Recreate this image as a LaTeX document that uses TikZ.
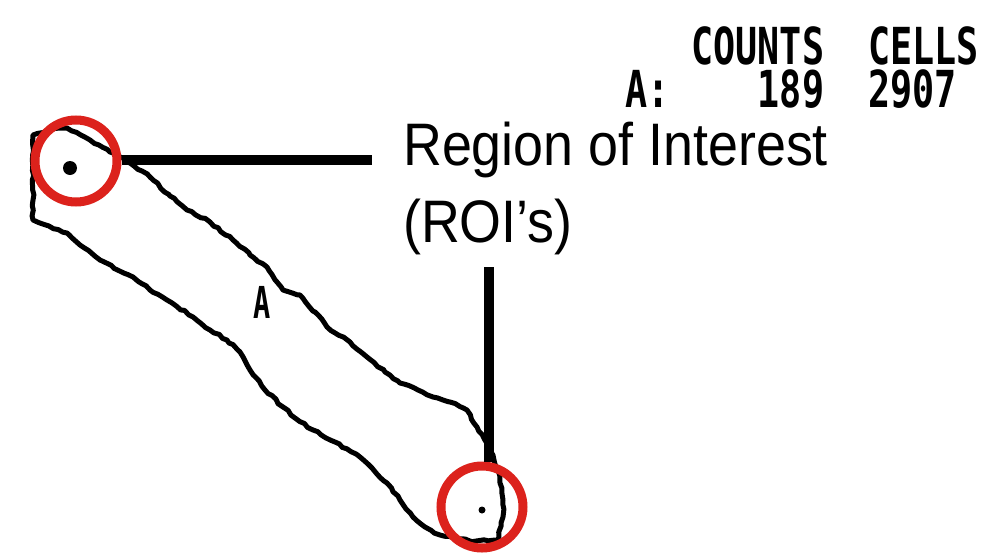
\documentclass[tikz,border=0pt]{standalone}
\usepackage{fontspec}
\usetikzlibrary{decorations.pathmorphing}
\setmainfont{Liberation Sans}
\newfontfamily\pixfont{DejaVu Sans Mono Bold}
\definecolor{roired}{RGB}{220,34,28}
\begin{document}
\begin{tikzpicture}[x=1pt,y=-1pt,
  roicircle/.style={circle,draw=roired,line width=9pt,minimum size=82pt,inner sep=0pt},
  leader/.style={line width=10pt,draw=black},
  labeltext/.style={anchor=base west,inner sep=0pt,font=\fontsize{60}{72}\selectfont},
  pixtext/.style={anchor=base west,inner sep=0pt,font=\fontsize{51}{43}\pixfont},
  outline/.style={line width=5pt,line join=round,decorate,
    decoration={random steps,segment length=5pt,amplitude=1pt}}
]
\pgfmathsetseed{7}
\useasboundingbox (0,0) rectangle (988,557);
\fill[white] (0,0) rectangle (988,557);

% band outline
\draw[outline] (33,135) -- (50,130) -- (67,128) -- (90,140) -- (110,152) -- (130,163) -- (150,177)
  -- (170,196) -- (187,210) -- (210,222) -- (233,240) -- (250,255) -- (267,267) -- (283,290)
  -- (300,295) -- (315,312) -- (327,327) -- (350,342) -- (367,357) -- (385,372) -- (400,383)
  -- (418,390) -- (433,397) -- (450,402) -- (467,410) -- (477,427) -- (490,450) -- (498,470)
  -- (500,483) -- (503,500) -- (503,517) -- (498,540) -- (470,541) -- (440,535) -- (425,527)
  -- (413,517) -- (400,500) -- (387,483) -- (372,468) -- (360,457) -- (335,442) -- (313,430)
  -- (295,418) -- (283,407) -- (265,390) -- (250,370) -- (240,352) -- (227,340) -- (210,330)
  -- (193,317) -- (167,300) -- (150,290) -- (133,277) -- (100,260) -- (80,245) -- (67,233)
  -- (33,220) -- cycle;

% dots
\fill (70,168) circle (7);
\fill (482,510) circle (3.5);

% band label
\node[anchor=base,inner sep=0pt,font=\fontsize{44}{46}\pixfont] (bandA) at (262,318) {\scalebox{0.65}[1]{A}};

% header (one block, monospaced columns)
\node[pixtext] (header) at (625,64) {\scalebox{0.72}[1]{\vtop{\baselineskip=43pt\lineskiplimit=-100pt
  \hbox{\ \ \ COUNTS\ \ CELLS}\hbox{A:\ \ \ \ 189\ \ 2907}}}};

% ROI circles
\node[roicircle] (c1) at (76,161) {};
\node[roicircle] (c2) at (482,507) {};

% label
\node[labeltext] (roi1) at (403,165) {\scalebox{0.897}[1]{Region of Interest}};
\node[labeltext] (roi2) at (403,242) {\scalebox{0.897}[1]{(ROI’s)}};

% leaders
\coordinate (hend) at (372,160);
\coordinate (vtop) at (489,267);
\draw[leader] (c1.east |- hend) -- (hend);
\draw[leader] (vtop) -- (vtop |- c2.north);
\end{tikzpicture}
\end{document}
